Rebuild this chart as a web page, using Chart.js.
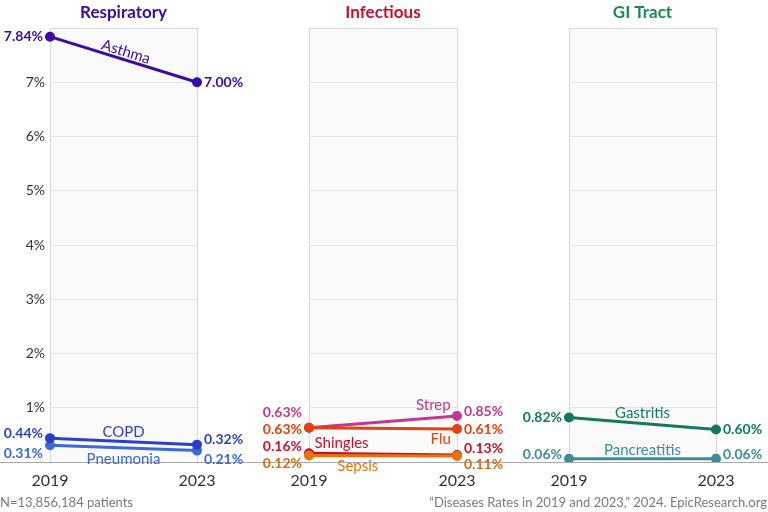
<!DOCTYPE html>
<html>
<head>
<meta charset="utf-8">
<script src="https://cdn.jsdelivr.net/npm/chart.js@4"></script>
<style>
  body { margin: 0; background: #fff; font-family: Lato, sans-serif; }
  #wrap { position: relative; width: 768px; height: 512px; overflow: hidden; }
  canvas { position: absolute; top: 0; }
  .foot { position: absolute; top: 494px; font-size: 13px; color: #7a7a7a; white-space: nowrap; }
</style>
</head>
<body>
<div id="wrap">
  <canvas id="resp" width="259" height="512" style="left:0"></canvas>
  <canvas id="inf" width="260" height="512" style="left:259px"></canvas>
  <canvas id="gi" width="249" height="512" style="left:519px"></canvas>
  <div class="foot" style="left:0">N=13,856,184 patients</div>
  <div class="foot" style="right:1px">“Diseases Rates in 2019 and 2023,” 2024. EpicResearch.org</div>
</div>
<script>
// Data
const years = ['2019', '2023'];
const yTicks = [1, 2, 3, 4, 5, 6, 7];
const yMax = 8;

const panelTitles = ['Respiratory', 'Infectious', 'GI Tract'];

const respiratoryNames = ['Asthma', 'COPD', 'Pneumonia'];
const asthma = [7.84, 7.00];
const copd = [0.44, 0.32];
const pneumonia = [0.31, 0.21];

const infectiousNames = ['Sepsis', 'Flu', 'Shingles', 'Strep'];
const sepsis = [0.12, 0.11];
const flu = [0.63, 0.61];
const shingles = [0.16, 0.13];
const strep = [0.63, 0.85];

const giNames = ['Gastritis', 'Pancreatitis'];
const gastritis = [0.82, 0.60];
const pancreatitis = [0.06, 0.06];

Chart.defaults.font.family = 'Lato, "DejaVu Sans", sans-serif';

// label placement: [leftDy, rightDy, nameFrac, nameDy, rotate]
function series(name, values, color, place) {
    return {
        label: name,
        data: values,
        borderColor: color,
        backgroundColor: color,
        borderWidth: 3,
        pointRadius: 3.5,
        pointHoverRadius: 3.5,
        tension: 0,
        place: place
    };
}

const slopeLabels = {
    id: 'slopeLabels',
    beforeDraw(chart) {
        const { ctx, chartArea } = chart;
        ctx.save();
        ctx.fillStyle = '#fafafa';
        ctx.fillRect(chartArea.left, chartArea.top, chartArea.right - chartArea.left, chartArea.bottom - chartArea.top);
        ctx.restore();
    },
    beforeDatasetsDraw(chart) {
        const { ctx, scales } = chart;
        // baseline across the whole width
        const y0 = scales.y.getPixelForValue(0);
        ctx.save();
        ctx.strokeStyle = '#a8a8a8';
        ctx.lineWidth = 1;
        ctx.beginPath();
        ctx.moveTo(0, Math.round(y0) + 0.5);
        ctx.lineTo(chart.width, Math.round(y0) + 0.5);
        ctx.stroke();
        ctx.restore();
    },
    afterDatasetsDraw(chart) {
        const { ctx, chartArea, scales } = chart;
        const opts = chart.options.plugins.slopeLabels;
        ctx.save();
        ctx.textBaseline = 'middle';
        // title
        ctx.font = 'bold 17px Lato';
        ctx.fillStyle = opts.titleColor;
        ctx.textAlign = 'center';
        ctx.fillText(opts.title, (chartArea.left + chartArea.right) / 2, 13);

        chart.data.datasets.forEach((ds) => {
            const p = ds.place;
            const x0 = scales.x.getPixelForValue(0);
            const x1 = scales.x.getPixelForValue(1);
            const ya = scales.y.getPixelForValue(ds.data[0]);
            const yb = scales.y.getPixelForValue(ds.data[1]);
            ctx.fillStyle = ds.labelColor || ds.borderColor;
            ctx.font = 'bold 14px Lato';
            ctx.textAlign = 'right';
            ctx.fillText(ds.data[0].toFixed(2) + '%', x0 - 7, ya + p[0]);
            ctx.textAlign = 'left';
            ctx.fillText(ds.data[1].toFixed(2) + '%', x1 + 7, yb + p[1]);

            // series name along the line
            ctx.fillStyle = ds.borderColor;
            ctx.font = '15px Lato';
            ctx.textAlign = 'center';
            const nx = x0 + p[2] * (x1 - x0);
            const ny = ya + p[2] * (yb - ya);
            ctx.save();
            if (p[4]) {
                const ang = Math.atan2(yb - ya, x1 - x0);
                ctx.translate(nx, ny);
                ctx.rotate(ang);
                ctx.fillText(ds.label, 0, p[3]);
            } else {
                ctx.fillText(ds.label, nx, ny + p[3]);
            }
            ctx.restore();
        });
        ctx.restore();
    }
};

function makePanel(id, title, titleColor, datasets, showTicks, rightPad) {
    return new Chart(document.getElementById(id), {
        type: 'line',
        data: { labels: years, datasets: datasets },
        plugins: [slopeLabels],
        options: {
            responsive: false,
            animation: false,
            layout: { padding: { top: 28, bottom: 20, left: 0, right: rightPad } },
            plugins: {
                legend: { display: false },
                title: { display: false },
                tooltip: { enabled: false },
                slopeLabels: { title: title, titleColor: titleColor }
            },
            scales: {
                x: {
                    type: 'category',
                    offset: false,
                    border: { display: false },
                    grid: { color: '#d6d6de', drawTicks: false },
                    ticks: { color: '#333', font: { size: 16 }, padding: 9, maxRotation: 0 },
                    afterFit: (s) => { s.height = 30; }
                },
                y: {
                    min: 0,
                    max: yMax,
                    border: { display: false },
                    afterBuildTicks: (s) => { s.ticks = [0].concat(yTicks, [yMax]).map((v) => ({ value: v })); },
                    grid: {
                        drawTicks: false,
                        color: (c) => c.tick.value === yMax ? '#d6d6de' : (c.tick.value === 0 ? 'rgba(0,0,0,0)' : '#e6e6e6')
                    },
                    ticks: {
                        display: showTicks,
                        color: '#333',
                        font: { size: 14 },
                        padding: 5,
                        callback: (v) => yTicks.includes(v) ? v + '%' : ''
                    },
                    afterFit: (s) => { s.width = 50; }
                }
            }
        }
    });
}

makePanel('resp', panelTitles[0], '#3a0ca3', [
    series(respiratoryNames[0], asthma, '#3a0ca3', [0, 0, 0.5, -8, true]),
    series(respiratoryNames[1], copd, '#2b3fcc', [-5, -5, 0.5, -9, false]),
    series(respiratoryNames[2], pneumonia, '#3a6ad6', [8, 9, 0.5, 11, false])
], true, 62);

const sepsisDs = series(infectiousNames[0], sepsis, '#e8730a', [8, 8, 0.33, 10, false]);
sepsisDs.labelColor = '#cf6e12';
makePanel('inf', panelTitles[1], '#c8102e', [
    sepsisDs,
    series(infectiousNames[1], flu, '#e5400f', [2, 1, 0.89, 10, false]),
    series(infectiousNames[2], shingles, '#c8102e', [-7, -6, 0.22, -11, false]),
    series(infectiousNames[3], strep, '#c4388c', [-15, -4, 0.84, -13, false])
], false, 62);

makePanel('gi', panelTitles[2], '#1a8a50', [
    series(giNames[0], gastritis, '#127a5c', [0, 0, 0.5, -10, false]),
    series(giNames[1], pancreatitis, '#3a8e98', [-4, -4, 0.5, -9, false])
], false, 52);
</script>
</body>
</html>
